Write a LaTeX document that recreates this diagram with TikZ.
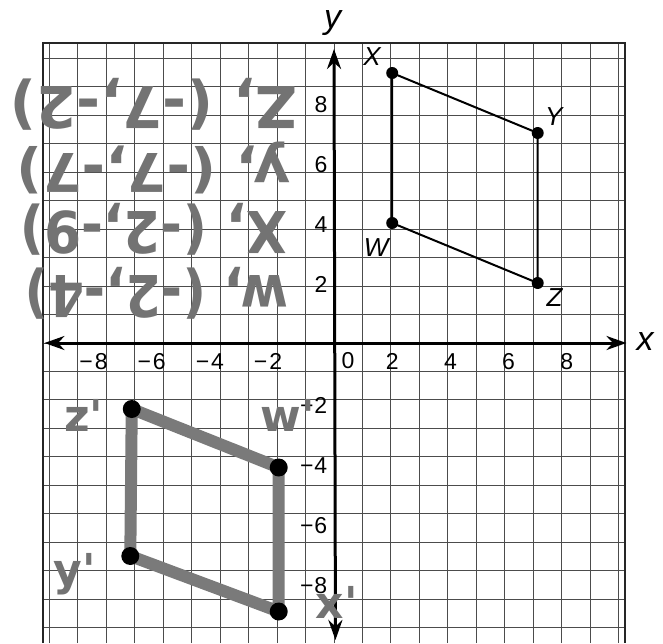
\documentclass[tikz,border=0pt]{standalone}
\usepackage{fontspec}
\setmainfont{Liberation Sans}
\newfontfamily\hwfont{DejaVu Sans}
\usetikzlibrary{arrows.meta}
\newcommand{\hwline}[3]{\resizebox*{#1}{#2}{\hwfont\bfseries #3}}
\begin{document}
\begin{tikzpicture}[x=29.1pt,y=30pt,
  gridline/.style={black!70,line width=0.9pt},
  frameline/.style={black!85,line width=1.6pt},
  axisline/.style={black,line width=3pt},
  tip/.tip={Stealth[length=20pt,width=14pt]},
  ticklab/.style={inner sep=0pt,font=\fontsize{23}{23}\selectfont},
  axislab/.style={inner sep=0pt,font=\fontsize{34}{34}\selectfont\itshape},
  ptlab/.style={inner sep=0pt,font=\fontsize{26}{26}\selectfont\itshape},
  orig/.style={black,line width=2pt},
  origdot/.style={black,fill=black},
  marker/.style={black!52,line width=12pt,line cap=round,line join=round},
  imgdot/.style={black,fill=black},
  hw/.style={inner sep=0pt,text=black!55,rotate=180},
  hwlab/.style={inner sep=0pt,text=black!55,font=\hwfont\bfseries\fontsize{44}{44}\selectfont}]
\useasboundingbox (-334pt,-300pt) rectangle (329pt,343pt);
\fill[white] (-334pt,-300pt) rectangle (329pt,343pt);
% grid
\draw[gridline] (-10,-10) grid (10,10);
\draw[frameline] (-10,-10) -- (-10,10) -- (10,10) -- (10,-10);
% axes
\coordinate (xl) at (-9.95,0);
\coordinate (xr) at (10.05,0);
\coordinate (yb) at (0.05,-9.9);
\coordinate (yt) at (0,9.8);
\draw[axisline,tip-tip] (xl) -- (xr);
\draw[axisline,tip-tip] (yb) -- (yt);
\node[axislab] (xlab) at (10.69,0.05) {x};
\node[axislab] (ylab) at (-0.05,10.68) {y};
% tick labels
\foreach \k in {2,4,6,8}{
  \node[ticklab] (xp\k) at (\k,-0.62) {\k};
  \node[ticklab] (xn\k) at (-\k,-0.62) {\llap{−\kern2pt}\k};
  \node[ticklab] (yp\k) at (-0.45,\k-0.05) {\k};
  \node[ticklab] (yn\k) at (-0.45,-\k-0.07) {\llap{−\kern1pt}\k};
}
\node[ticklab] (zero) at (0.48,-0.6) {0};
% original figure
\coordinate (X) at (2,9);
\coordinate (Y) at (7,7);
\coordinate (Z) at (7,2);
\coordinate (W) at (2,4);
\draw[orig] (X) -- (Y) -- (Z) -- (W) -- cycle;
\foreach \p in {X,Y,Z,W}{\fill[origdot] (\p) circle (6pt);}
\node[ptlab] (Xl) at (1.31,9.55) {X};
\node[ptlab] (Yl) at (7.55,7.55) {Y};
\node[ptlab] (Wl) at (1.45,3.17) {W};
\node[ptlab] (Zl) at (7.58,1.5) {Z};
% image drawn by hand
\coordinate (Zp) at (-6.95,-2.2);
\coordinate (Wp) at (-1.9,-4.15);
\coordinate (Xp) at (-1.9,-8.95);
\coordinate (Yp) at (-7,-7.1);
\draw[marker] (Zp) -- (Wp) -- (Xp) -- (Yp) -- cycle;
\foreach \p in {Zp,Wp,Xp,Yp}{\fill[imgdot] (\p) circle (9pt);}
\node[hwlab] (Zpl) at (-8.6,-2.4) {z'};
\node[hwlab] (Wpl) at (-1.6,-2.4) {w'};
\node[hwlab] (Ypl) at (-8.9,-7.7) {y'};
\node[hwlab] (Xpl) at (0.1,-8.65) {x'};
% handwritten coordinates (written upside down)
\node[hw] (h1) at (-6.2,7.95) {\hwline{287pt}{52pt}{Z, (-7,-2)}};
\node[hw] (h2) at (-6.2,5.85) {\hwline{273pt}{52pt}{y, (-7,-7)}};
\node[hw] (h3) at (-6.2,3.8) {\hwline{267pt}{52pt}{X, (-2,-9)}};
\node[hw] (h4) at (-6.1,1.65) {\hwline{263pt}{52pt}{w, (-2,-4)}};
\end{tikzpicture}
\end{document}
